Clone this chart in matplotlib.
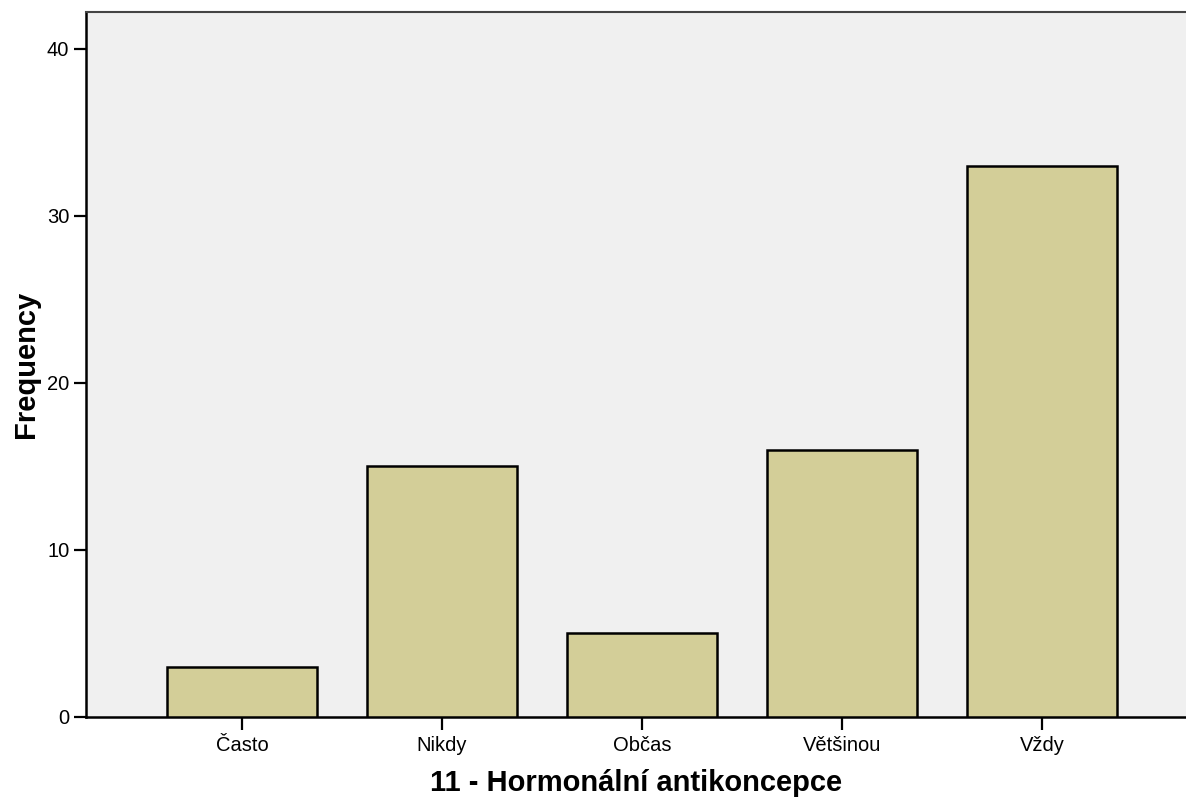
import matplotlib
matplotlib.use('Agg')
import matplotlib.pyplot as plt

plt.rcParams['font.family'] = ['Liberation Sans', 'DejaVu Sans']

kategorie = ['Často', 'Nikdy', 'Občas', 'Většinou', 'Vždy']
cetnosti = [3, 15, 5, 16, 33]
y_ticks = [0, 10, 20, 30, 40]

fig = plt.figure(figsize=(11.86, 8.02), dpi=100)
ax = fig.add_axes([86 / 1186, 85 / 802, 1 - 86 / 1186, 705 / 802])
ax.set_facecolor('#f0f0f0')

x = list(range(len(kategorie)))
ax.bar(x, cetnosti, width=0.75, color='#d3ce98', edgecolor='black', linewidth=1.8, zorder=3)

ax.set_xlim(-0.78, 4.72)
ax.set_ylim(0, 42.2)
ax.set_xticks(x)
ax.set_xticklabels(kategorie, fontsize=14.5)
ax.set_yticks(y_ticks)
ax.set_yticklabels([str(v) for v in y_ticks], fontsize=14.5)
ax.tick_params(axis='both', length=9, width=1.6, color='black', pad=3)
ax.tick_params(axis='x', pad=5)

ax.spines['right'].set_visible(False)
ax.spines['top'].set_color('#444444')
ax.spines['top'].set_linewidth(1.5)
ax.spines['left'].set_linewidth(1.8)
ax.spines['bottom'].set_linewidth(1.8)

ax.set_ylabel('Frequency', fontsize=21, fontweight='bold', labelpad=5)
ax.set_xlabel('11 - Hormonální antikoncepce', fontsize=21, fontweight='bold', labelpad=10)

fig.savefig('out.png', dpi=100)
